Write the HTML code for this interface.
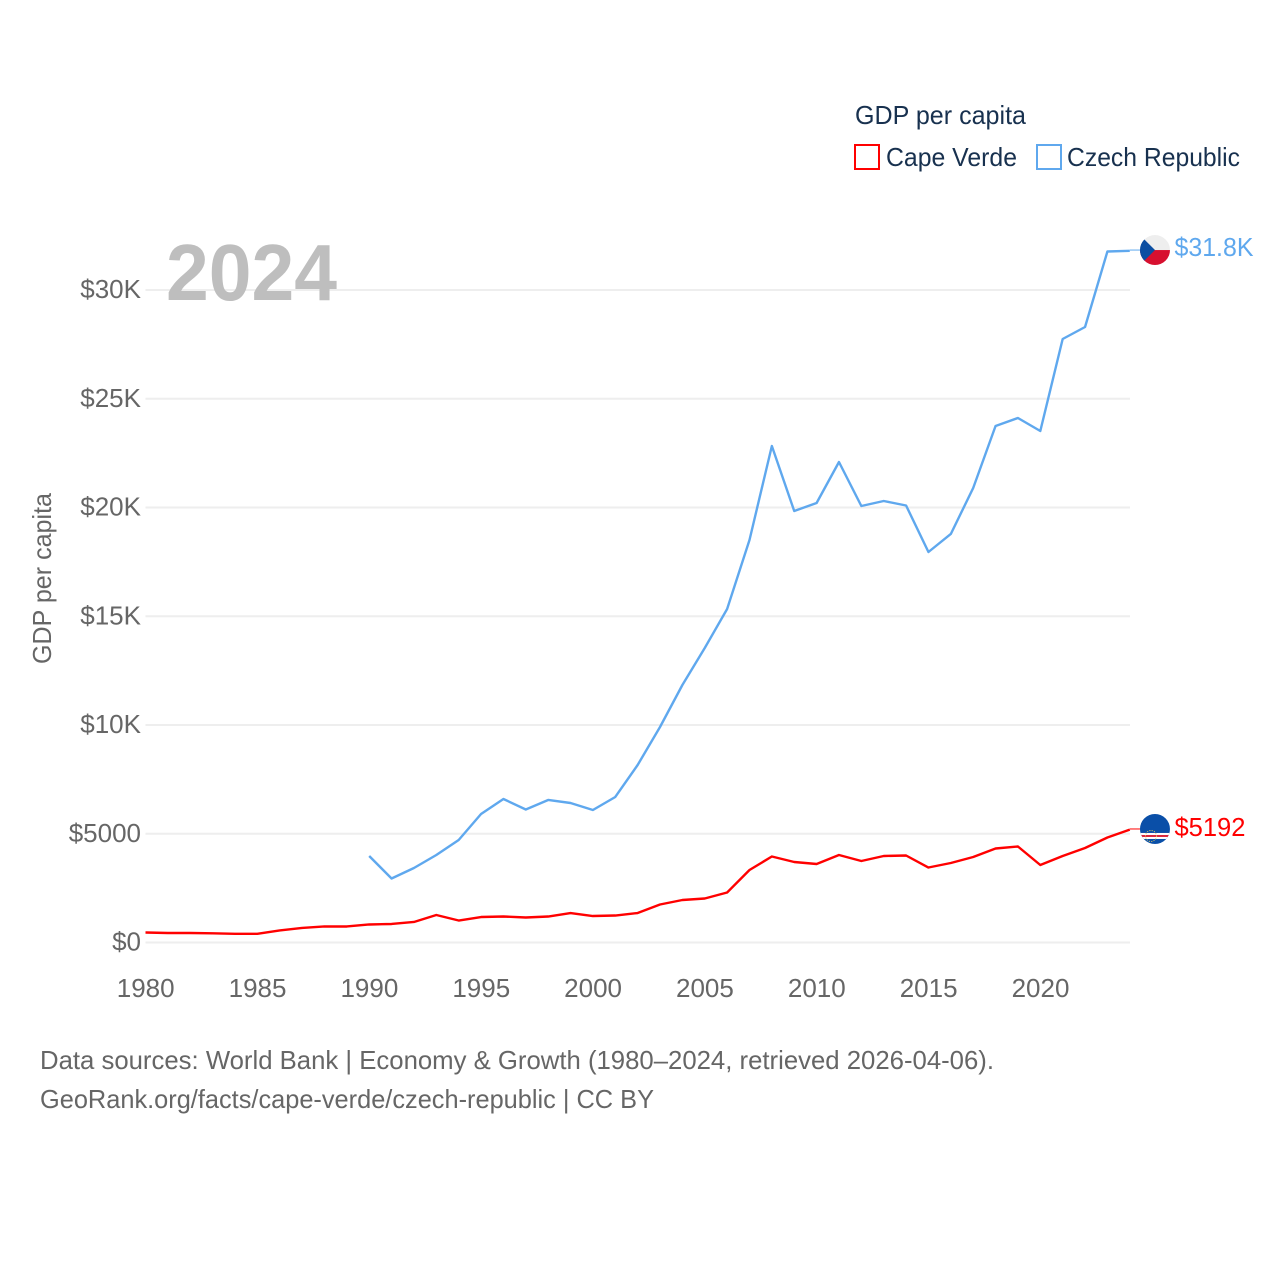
<!DOCTYPE html>
<html lang="en">
<head>
<meta charset="utf-8">
<title>GDP per capita: Cape Verde and Czech Republic</title>
<style>
html,body{margin:0;padding:0;background:#fff;}
svg{display:block;font-family:"Liberation Sans",sans-serif;}
</style>
</head>
<body>
<svg id="chart" xmlns="http://www.w3.org/2000/svg" width="1280" height="1280" viewBox="0 0 1280 1280">
  <rect x="0" y="0" width="1280" height="1280" fill="#fff"/>
  <g id="grid"></g>
  <g id="yticks"></g>
  <g id="xticks"></g>
  <text x="166" y="300" font-size="80" font-weight="700" fill="#bbbbbb" fill-opacity="0.95" textLength="171" lengthAdjust="spacingAndGlyphs">2024</text>
  <text transform="translate(51,664) rotate(-90)" font-size="26" fill="#666666" textLength="171" lengthAdjust="spacingAndGlyphs">GDP per capita</text>
  <g id="series"></g>
  <g id="ends"></g>

  <text x="855" y="124" font-size="26" fill="#18314f" textLength="171" lengthAdjust="spacingAndGlyphs">GDP per capita</text>
  <rect x="855" y="145" width="24" height="24" fill="#fff" stroke="#ff0000" stroke-width="2"/>
  <text x="886" y="166" font-size="26" fill="#18314f" textLength="131" lengthAdjust="spacingAndGlyphs">Cape Verde</text>
  <rect x="1037" y="145" width="24" height="24" fill="#fff" stroke="#5fa8ee" stroke-width="2"/>
  <text x="1067" y="166" font-size="26" fill="#18314f" textLength="173" lengthAdjust="spacingAndGlyphs">Czech Republic</text>

  <text x="40" y="1069" font-size="26" fill="#666666" textLength="954" lengthAdjust="spacingAndGlyphs">Data sources: World Bank | Economy &amp; Growth (1980–2024, retrieved 2026-04-06).</text>
  <text x="40" y="1108" font-size="26" fill="#666666" textLength="614" lengthAdjust="spacingAndGlyphs">GeoRank.org/facts/cape-verde/czech-republic | CC BY</text>
</svg>
<script>
const years = [1980,1981,1982,1983,1984,1985,1986,1987,1988,1989,1990,1991,1992,1993,1994,1995,1996,1997,1998,1999,2000,2001,2002,2003,2004,2005,2006,2007,2008,2009,2010,2011,2012,2013,2014,2015,2016,2017,2018,2019,2020,2021,2022,2023,2024];
const capeVerde = [460,437,437,423,400,400,552,667,736,736,828,851,943,1264,1011,1172,1195,1149,1195,1356,1218,1241,1356,1747,1954,2023,2299,3333,3954,3701,3609,4023,3747,3977,4000,3448,3655,3931,4322,4414,3563,3977,4345,4828,5192];
const czechRepublic = [null,null,null,null,null,null,null,null,null,null,3977,2943,3425,4023,4713,5908,6598,6115,6552,6414,6092,6690,8161,9908,11839,13540,15333,18506,22828,19839,20207,22092,20069,20299,20092,17954,18782,20897,23747,24115,23517,27747,28299,31770,31800];
const yTickValues = [0,5000,10000,15000,20000,25000,30000];
const yTickLabels = ['$0','$5000','$10K','$15K','$20K','$25K','$30K'];
const xTickValues = [1980,1985,1990,1995,2000,2005,2010,2015,2020];
const capeVerdeEndLabel = '$5192';
const czechEndLabel = '$31.8K';

const NS = 'http://www.w3.org/2000/svg';
function xScale(year){ return 145.5 + (year - 1980) * 22.37; }
function yScale(value){ return 942.5 - value * (652.5 / 30000); }
function make(tag, attrs, parent){
  const el = document.createElementNS(NS, tag);
  for (const k in attrs) el.setAttribute(k, attrs[k]);
  parent.appendChild(el);
  return el;
}

const gridG = document.getElementById('grid');
const yG = document.getElementById('yticks');
yTickValues.forEach(function(v, i){
  const line = make('line', {x1:145.5, x2:1130, y1:yScale(v), y2:yScale(v), stroke:'#eeeeee', 'stroke-width':2}, gridG);
  
  
  const t = make('text', {x:141, y:yScale(v) + 8, 'text-anchor':'end', 'font-size':26, fill:'#666666'}, yG);
  t.textContent = yTickLabels[i];
  
  
});

const xG = document.getElementById('xticks');
xTickValues.forEach(function(v){
  const t = make('text', {x:xScale(v) + 0.2, y:997, 'text-anchor':'middle', 'font-size':26, fill:'#666666'}, xG);
  t.textContent = String(v);
  
  
});

function linePath(values){
  let d = '';
  values.forEach(function(v, i){
    if (v === null) return;
    d += (d ? 'L' : 'M') + xScale(years[i]).toFixed(2) + ' ' + yScale(v).toFixed(2);
  });
  return d;
}
const seriesG = document.getElementById('series');
const czechLine = make('path', {d:linePath(czechRepublic), fill:'none', stroke:'#5fa8ee', 'stroke-width':2.4, 'stroke-linejoin':'round'}, seriesG);


const capeLine = make('path', {d:linePath(capeVerde), fill:'none', stroke:'#ff0000', 'stroke-width':2.4, 'stroke-linejoin':'round'}, seriesG);



const endsG = document.getElementById('ends');
const defs = make('defs', {}, endsG);
const lastYear = years[years.length - 1];
const flagX = xScale(lastYear) + 25.2;
const czY = yScale(czechRepublic[czechRepublic.length - 1]) - 0.8;
const cvY = yScale(capeVerde[capeVerde.length - 1]) - 0.6;

const clipCz = make('clipPath', {id:'clip-cz'}, defs);
make('circle', {cx:flagX, cy:czY, r:15}, clipCz);
const clipCv = make('clipPath', {id:'clip-cv'}, defs);
make('circle', {cx:flagX, cy:cvY, r:15}, clipCv);

const czConn = make('line', {x1:xScale(lastYear), x2:flagX - 15, y1:czY, y2:czY, stroke:'#5fa8ee', 'stroke-width':1}, endsG);


const cvConn = make('line', {x1:xScale(lastYear), x2:flagX - 15, y1:cvY, y2:cvY, stroke:'#ff0000', 'stroke-width':1}, endsG);



const czFlag = make('g', {'clip-path':'url(#clip-cz)'}, endsG);


make('rect', {x:flagX - 15, y:czY - 15, width:30, height:15, fill:'#eeeeee'}, czFlag);
make('rect', {x:flagX - 15, y:czY, width:30, height:15, fill:'#d7102f'}, czFlag);
make('polygon', {points:(flagX - 15) + ',' + (czY - 15) + ' ' + flagX + ',' + czY + ' ' + (flagX - 15) + ',' + (czY + 15), fill:'#0b4ea2'}, czFlag);

const cvFlag = make('g', {'clip-path':'url(#clip-cv)'}, endsG);


make('rect', {x:flagX - 15, y:cvY - 15, width:30, height:30, fill:'#0a4fa8'}, cvFlag);
make('rect', {x:flagX - 15, y:cvY + 4, width:30, height:6, fill:'#ffffff'}, cvFlag);
make('rect', {x:flagX - 15, y:cvY + 6, width:30, height:2, fill:'#d7263d'}, cvFlag);
make('circle', {cx:flagX - 4, cy:cvY + 7, r:5.5, fill:'none', stroke:'#d8c766', 'stroke-width':0.9, 'stroke-dasharray':'1.2 1.2'}, cvFlag);

const czLabel = make('text', {x:flagX + 19.5, y:czY + 6, 'font-size':26, fill:'#5fa8ee', textLength:79, lengthAdjust:'spacingAndGlyphs'}, endsG);
czLabel.textContent = czechEndLabel;


const cvLabel = make('text', {x:flagX + 19.5, y:cvY + 7, 'font-size':26, fill:'#ff0000', textLength:71, lengthAdjust:'spacingAndGlyphs'}, endsG);
cvLabel.textContent = capeVerdeEndLabel;


</script>
</body>
</html>
